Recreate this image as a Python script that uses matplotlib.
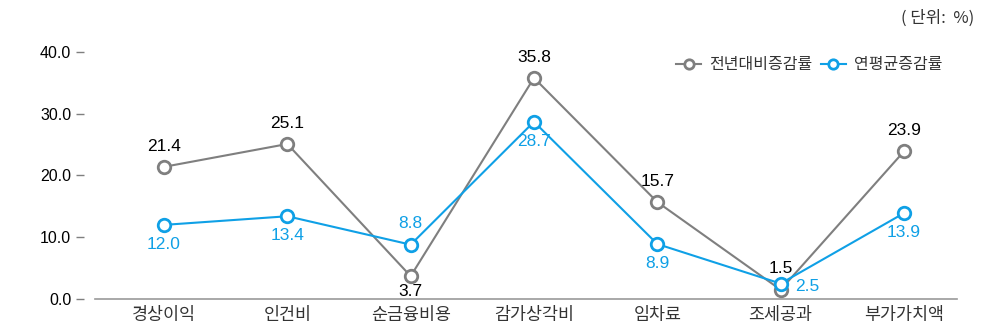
import matplotlib
matplotlib.use("Agg")
import matplotlib.pyplot as plt

plt.rcParams['font.family'] = ['Liberation Sans', 'Noto Sans CJK KR']

categories = ['경상이익', '인건비', '순금융비용', '감가상각비', '임차료', '조세공과', '부가가치액']
yoy = [21.4, 25.1, 3.7, 35.8, 15.7, 1.5, 23.9]
cagr = [12.0, 13.4, 8.8, 28.7, 8.9, 2.5, 13.9]
yticks = [0, 10, 20, 30, 40]

gray = '#7f7f7f'
blue = '#0fa0e6'

fig = plt.figure(figsize=(9.81, 3.29), dpi=100)
ax = fig.add_axes([0.0968, 0.0912, 0.8787, 0.7508])

x = list(range(len(categories)))
ax.plot(x, yoy, color=gray, lw=1.5, marker='o', ms=9, mfc='white', mec=gray, mew=2,
        label='전년대비증감률', clip_on=False, zorder=3)
ax.plot(x, cagr, color=blue, lw=1.5, marker='o', ms=9, mfc='white', mec=blue, mew=2,
        label='연평균증감률', clip_on=False, zorder=4)

ax.set_xlim(-0.56, 6.43)
ax.set_ylim(0, 40)
ax.set_xticks(x)
ax.set_xticklabels(categories, fontfamily='Noto Sans CJK KR', color='#333333')
ax.set_yticks(yticks)
ax.set_yticklabels([f'{v:.1f}' for v in yticks])
ax.tick_params(axis='x', length=0, pad=5, labelsize=12.5)
ax.tick_params(axis='y', length=6, color=gray, pad=3, width=1, labelsize=11.5)
for s in ['top', 'right']:
    ax.spines[s].set_visible(False)
ax.spines['left'].set_position(('outward', 8))
ax.spines['left'].set_visible(False)
ax.spines['bottom'].set_color('#999999')
ax.spines['bottom'].set_linewidth(1.2)

# labels for gray series
gray_off = [(0, 15), (0, 15), (0, -11), (0, 15), (0, 15), (0, 15), (0, 15)]
for i, v in enumerate(yoy):
    dx, dy = gray_off[i]
    ax.annotate(f'{v:.1f}', (i, v), xytext=(dx, dy), textcoords='offset points',
                ha='center', va='center', fontsize=12.5, color='black')
blue_off = [(0, -14), (0, -14), (0, 15), (0, -14), (0, -14), (19, -2), (0, -14)]
for i, v in enumerate(cagr):
    dx, dy = blue_off[i]
    ax.annotate(f'{v:.1f}', (i, v), xytext=(dx, dy), textcoords='offset points',
                ha='center', va='center', fontsize=12.5, color=blue)

leg = ax.legend(loc='upper right', bbox_to_anchor=(1.0, 1.04), ncol=2, frameon=False,
                prop={'family': 'Noto Sans CJK KR', 'size': 11.5}, handlelength=1.6,
                handletextpad=0.5, columnspacing=0.5, markerscale=0.75)
for t in leg.get_texts():
    t.set_color('#333333')

fig.text(0.993, 0.945, '( 단위:  %)', ha='right', va='center', fontsize=12,
         fontfamily='Noto Sans CJK KR', color='#333333')

fig.savefig('out.png', dpi=100)
